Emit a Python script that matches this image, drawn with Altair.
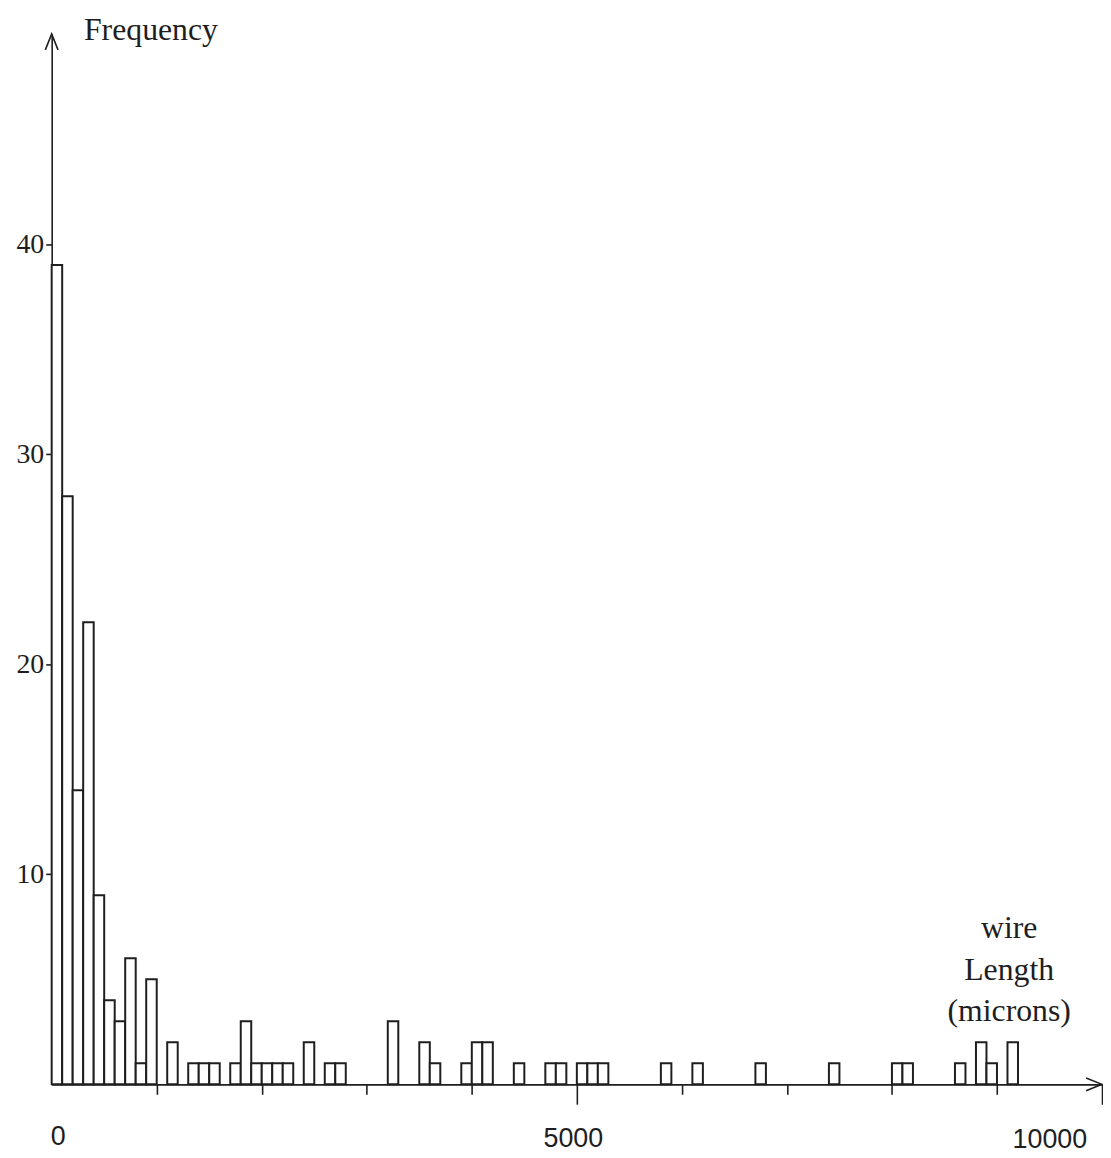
import altair as alt
import pandas as pd

# Histogram of wire lengths (bins of 100 microns)
bin_index = [0, 1, 2, 3, 4, 5, 6, 7, 8, 9, 11, 13, 14, 15, 17, 18, 19, 20, 21, 22,
             24, 26, 27, 32, 35, 36, 39, 40, 41, 44, 47, 48, 50, 51, 52, 58, 61, 67,
             74, 80, 81, 86, 88, 89, 91]
counts = [39, 28, 14, 22, 9, 4, 3, 6, 1, 5, 2, 1, 1, 1, 1, 3, 1, 1, 1, 1,
          2, 1, 1, 3, 2, 1, 1, 2, 2, 1, 1, 1, 1, 1, 1, 1, 1, 1,
          1, 1, 1, 1, 2, 1, 2]
BIN_WIDTH = 100

x_ticks = list(range(0, 10001, 1000))
x_labelled = [0, 5000, 10000]
y_ticks = [10, 20, 30, 40]
x_max = 10000
y_max = 50

df = pd.DataFrame({"start": [b * BIN_WIDTH for b in bin_index], "count": counts})
df["end"] = df["start"] + BIN_WIDTH
df["zero"] = 0

INK = "#1e1e1e"
SERIF = "Liberation Serif"
SANS = "Liberation Sans"

x_scale = alt.Scale(domain=[0, x_max], nice=False, zero=False)
y_scale = alt.Scale(domain=[0, y_max], nice=False)

label_test = " || ".join(f"datum.value == {v}" for v in x_labelled)

x_axis = alt.Axis(
    values=x_ticks,
    grid=False,
    title=["wire", "Length", "(microns)"],
    titleX=964, titleY=-148, titleAlign="center", titleBaseline="alphabetic",
    titleFont=SERIF, titleFontSize=32, titleFontWeight="normal",
    titleLineHeight=42, titleColor=INK,
    labelExpr=f"({label_test}) ? format(datum.value, 'd') : ''",
    labelFont=SANS, labelFontSize=27, labelColor=INK,
    labelFlush=False, labelOverlap=False, labelBound=False,
    labelOffset=alt.ExprRef(expr="datum.value == 0 ? 6 : (datum.value == 10000 ? -53 : -4)"),
    labelBaseline="alphabetic",
    labelPadding=alt.ExprRef(expr="datum.value == 0 ? 51 : (datum.value == 10000 ? 44 : 43)"),
    tickSize=alt.ExprRef(expr="(datum.value == 5000 || datum.value == 10000) ? 20 : 10"),
    tickOpacity=alt.ExprRef(expr="datum.value == 0 ? 0 : 1"),
    tickColor=INK, tickWidth=1.6,
    domainColor=INK, domainWidth=1.6,
)

y_axis = alt.Axis(
    values=y_ticks,
    grid=False,
    format="d",
    title="Frequency",
    titleAngle=0, titleX=32, titleY=6, titleAlign="left", titleBaseline="alphabetic",
    titleFont=SERIF, titleFontSize=32, titleFontWeight="normal", titleColor=INK,
    labelFont=SERIF, labelFontSize=28, labelColor=INK, labelPadding=2,
    tickSize=6, tickColor=INK, tickWidth=1.6,
    domainColor=INK, domainWidth=1.6,
)

bars = alt.Chart(df).mark_rect(fill="white", stroke=INK, strokeWidth=2).encode(
    x=alt.X("start:Q", scale=x_scale, axis=x_axis),
    x2="end:Q",
    y=alt.Y("count:Q", scale=y_scale, axis=y_axis),
    y2="zero:Q",
)

y_arrow = alt.Chart(pd.DataFrame({"x": [0], "y": [y_max]})).mark_point(
    shape="M-0.4,1L0,0L0.4,1", size=1024, filled=False, stroke=INK, strokeWidth=1.6, opacity=1
).encode(
    x=alt.X("x:Q", scale=x_scale),
    y=alt.Y("y:Q", scale=y_scale),
)

x_arrow = alt.Chart(pd.DataFrame({"x": [x_max], "y": [0]})).mark_point(
    shape="M-1,-0.4L0,0L-1,0.4", size=1024, filled=False, stroke=INK, strokeWidth=1.6, opacity=1
).encode(
    x=alt.X("x:Q", scale=x_scale),
    y=alt.Y("y:Q", scale=y_scale),
)

chart = alt.layer(bars, y_arrow, x_arrow).properties(
    width=1058,
    height=1058,
    autosize=alt.AutoSizeParams(type="none"),
    padding={"left": 44, "top": 22, "right": 1, "bottom": 70},
    background="white",
).configure_view(stroke=None)

chart.save("out.html", embed_options={"renderer": "svg", "actions": False})
